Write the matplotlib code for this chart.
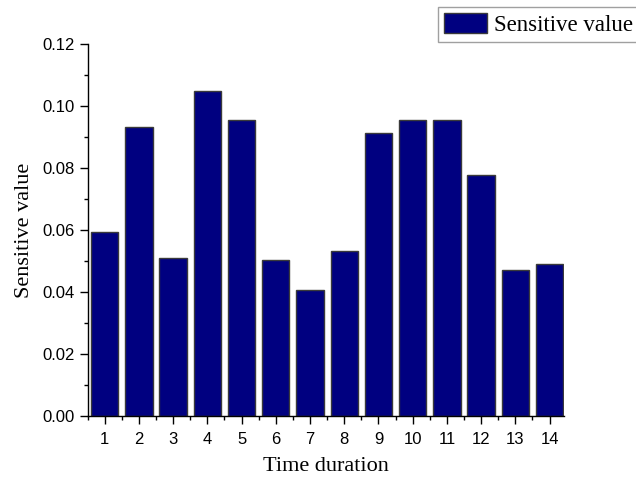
import matplotlib.pyplot as plt
from matplotlib.ticker import MultipleLocator

# Data
durations = list(range(1, 15))
sensitive_values = [0.0595, 0.0934, 0.0512, 0.1049, 0.0956, 0.0503, 0.0407,
                    0.0532, 0.0915, 0.0956, 0.0956, 0.0779, 0.0471, 0.0490]
y_ticks = [0.00, 0.02, 0.04, 0.06, 0.08, 0.10, 0.12]

fig = plt.figure(figsize=(6.36, 4.78), dpi=100)
ax = fig.add_axes([0.1377, 0.129, 0.749, 0.778])

bars = ax.bar(durations, sensitive_values, width=0.8, color='#000080',
              edgecolor='#3a3a3a', linewidth=1.0, label='Sensitive value')

ax.set_xlim(0.5, 14.42)
ax.set_ylim(0, 0.12)
ax.set_xticks(durations)
ax.set_yticks(y_ticks)
ax.set_yticklabels([f'{v:.2f}' for v in y_ticks])
ax.xaxis.set_minor_locator(MultipleLocator(0.5))
ax.yaxis.set_minor_locator(MultipleLocator(0.01))

# Origin-like look: only left and bottom axes
ax.spines['top'].set_visible(False)
ax.spines['right'].set_visible(False)
for side in ['left', 'bottom']:
    ax.spines[side].set_linewidth(1.0)

ax.tick_params(axis='both', which='major', direction='out', length=5.5, width=1.0,
               labelsize=12)
ax.tick_params(axis='x', which='major', pad=6)
ax.tick_params(axis='both', which='minor', direction='out', length=3, width=1.0)
for lbl in ax.get_xticklabels() + ax.get_yticklabels():
    lbl.set_family('Liberation Sans')

ax.set_xlabel('Time duration', family='Liberation Serif', fontsize=16, labelpad=7)
ax.set_ylabel('Sensitive value', family='Liberation Serif', fontsize=16, labelpad=6)

leg = fig.legend(handles=[bars], loc='upper left',
                 bbox_to_anchor=(438 / 636, 1 - 7 / 478),
                 prop={'family': 'Liberation Serif', 'size': 16.5},
                 frameon=True, fancybox=False, borderpad=0.25,
                 handlelength=1.9, handleheight=1.0, handletextpad=0.3,
                 borderaxespad=0)
leg.get_frame().set_edgecolor('#888888')
leg.get_frame().set_linewidth(1.0)

fig.savefig('out.png', dpi=100)
